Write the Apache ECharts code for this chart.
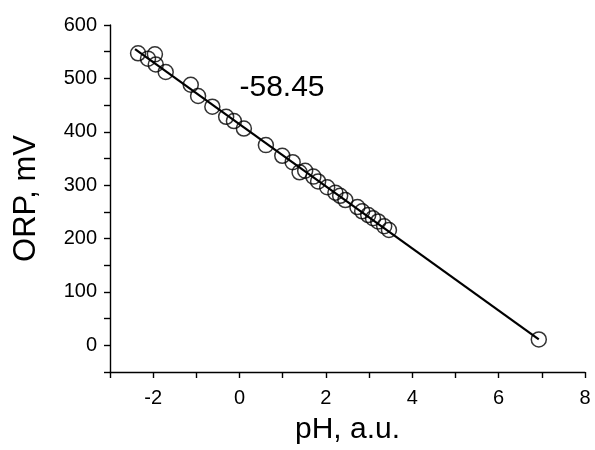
<!DOCTYPE html>
<html>
<head>
<meta charset="utf-8">
<script src="https://cdn.jsdelivr.net/npm/echarts@6/dist/echarts.min.js"></script>
<style>html,body{margin:0;padding:0;background:#fff}#c{width:595px;height:450px}</style>
</head>
<body>
<div id="c"></div>
<script>
// measured points: pH (a.u.) and ORP (mV)
const phValues  = [-2.35, -2.12, -1.96, -1.94, -1.71, -1.13, -0.96, -0.63, -0.31, -0.13, 0.10, 0.61, 0.99, 1.23, 1.39,
                   1.52, 1.71, 1.82, 2.03, 2.22, 2.33, 2.45, 2.73, 2.84, 2.98, 3.09, 3.21, 3.35, 3.46, 6.93];
const orpValues = [547, 537, 545, 526, 512, 488, 467, 447, 428, 420, 406, 375, 355, 343, 324,
                   327, 316, 307, 296, 286, 280, 272, 259, 251, 244, 238, 232, 223, 216, 11];
// fitted line end points
const fitPh  = [-2.42, 6.93];
const fitOrp = [555, 11];
const slopeLabel = '-58.45';
const xName = 'pH, a.u.';
const yName = 'ORP, mV';

const scatterData = phValues.map((v, i) => [v, orpValues[i]]);
const lineData = fitPh.map((v, i) => [v, fitOrp[i]]);
const FONT = '"Liberation Sans", Arial, sans-serif';

const chart = echarts.init(document.getElementById('c'), null, {renderer: 'canvas'});
chart.setOption({
  animation: false,
  backgroundColor: '#fff',
  grid: {left: 110, right: 10, top: 25, bottom: 73.5, containLabel: false},
  xAxis: {
    type: 'value', min: -3, max: 8, interval: 1,
    name: xName, nameLocation: 'middle', nameGap: 43,
    nameTextStyle: {fontFamily: FONT, fontSize: 30, color: '#000'},
    axisLine: {show: true, onZero: false, lineStyle: {color: '#000', width: 1.4}},
    axisTick: {show: true, inside: false, length: 6, lineStyle: {color: '#000', width: 1.4}},
    axisLabel: {
      margin: 16, fontFamily: FONT, fontSize: 20, color: '#000',
      formatter: v => (Math.round(v) % 2 === 0 ? String(v) : '')
    },
    splitLine: {show: false}
  },
  yAxis: {
    type: 'value', min: -50, max: 600, interval: 50,
    name: yName, nameLocation: 'middle', nameGap: 68, nameRotate: 90,
    nameTextStyle: {fontFamily: FONT, fontSize: 31, color: '#000'},
    axisLine: {show: true, onZero: false, lineStyle: {color: '#000', width: 1.4}},
    axisTick: {show: true, inside: false, length: 6, lineStyle: {color: '#000', width: 1.4}},
    axisLabel: {
      margin: 13, fontFamily: FONT, fontSize: 20, color: '#000',
      formatter: v => (v >= 0 && v % 100 === 0 ? String(v) : '')
    },
    splitLine: {show: false}
  },
  graphic: [{
    type: 'text', x: 282, y: 88,
    style: {text: slopeLabel, fontFamily: FONT, fontSize: 30, fill: '#000', textAlign: 'center', textVerticalAlign: 'middle'}
  }],
  series: [
    {
      type: 'line', data: lineData, symbol: 'none', silent: true,
      lineStyle: {color: '#000', width: 2.2}, z: 3
    },
    {
      type: 'scatter', data: scatterData, symbol: 'circle', symbolSize: 15,
      itemStyle: {color: 'rgba(0,0,0,0)', borderColor: '#000', borderWidth: 1.5}, z: 2
    }
  ]
});
</script>
</body>
</html>
